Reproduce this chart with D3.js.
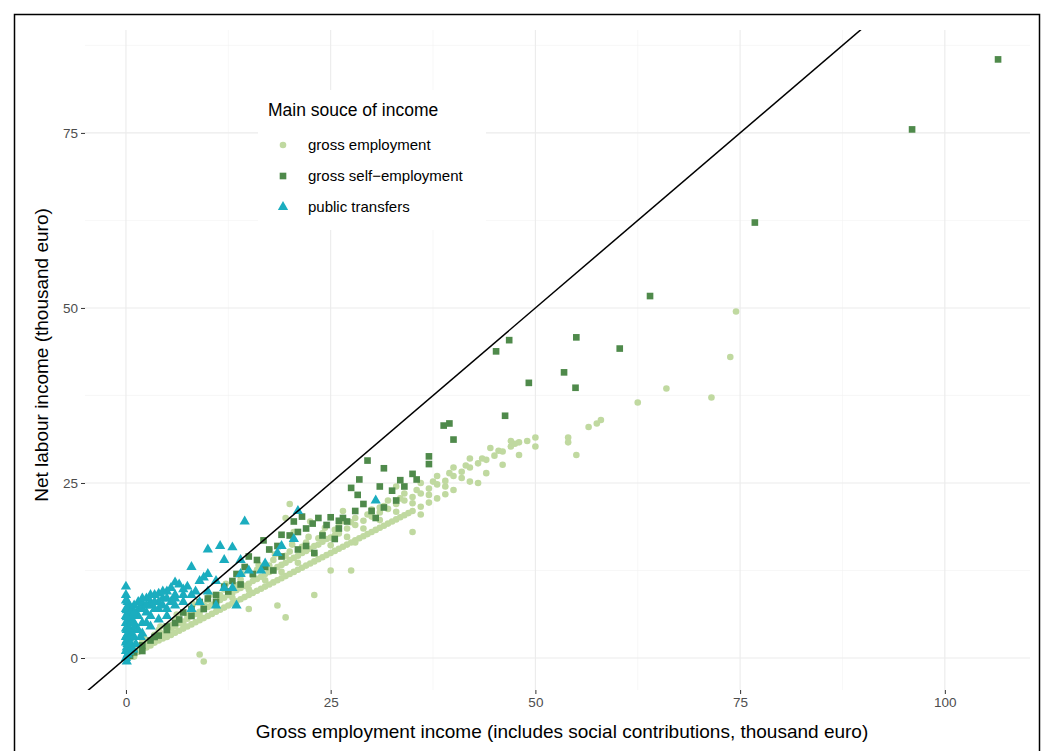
<!DOCTYPE html>
<html><head><meta charset="utf-8">
<script src="https://cdn.jsdelivr.net/npm/d3@7"></script>
<style>body{margin:0;background:#fff}text{font-family:"Liberation Sans",Arial,sans-serif}</style>
</head><body><svg id="c" width="1045" height="751"></svg>
<script>
const xTicks=[0,25,50,75,100];
const yTicks=[0,25,50,75];
const seriesNames=["gross employment","gross self\u2212employment","public transfers"];
const employment=[[0.2,0.5],[0.5,0.8],[1,1],[1.5,1.3],[2,1.8],[2.5,2],[3,2.5],[3.5,2.8],[4,3],[4.5,3.5],[5,3.8],[5.5,4.2],[6,4.5],[6.5,5],[7,5.2],[7.5,5.6],[8,6],[8.5,6.3],[9,6.6],[9.5,7],[10,7.3],[10.5,7.6],[11,8],[11.5,8.3],[12,8.6],[12.5,9],[13,9.3],[13.5,9.7],[14,10],[14.5,10.3],[15,10.6],[15.5,11],[16,11.3],[16.5,11.6],[17,12],[17.5,12.3],[18,12.6],[18.5,13],[19,13.3],[19.5,13.6],[20,14],[20.5,14.3],[21,14.6],[21.5,15],[22,15.3],[22.5,15.6],[23,16],[23.5,16.2],[24,16.6],[24.5,17],[25,17.2],[25.5,17.5],[26,17.8],[27,18.5],[28,19],[29,19.6],[30,20.2],[31,20.8],[32,21.3],[33,22],[34,22.5],[35,23],[36,23.5],[37,24.2],[38,24.8],[39,25.3],[40,26],[41,26.6],[42,27.2],[43,27.8],[44,28.3],[45,28.9],[46,29.5],[47,30.2],[48,30.8],[50,31.5],
[1,0.5],[2,1.2],[3,1.8],[4,2.5],[5,3],[6,3.6],[7,4.2],[8,4.8],[9,5.4],[10,6],[11,6.6],[12,7.2],[13,7.8],[14,8.4],[15,9],[16,9.6],[17,10.2],[18,10.8],[19,11.4],[20,12],[21,12.6],[22,13.2],[23,13.8],[24,14.4],[25,15],[26,15.6],[27,16.2],[28,16.8],[29,17.4],[30,18],[31,18.6],[32,19.2],[33,19.8],[34,20.4],[35,21],[36,21.6],[37,22.2],[38,22.8],[39,23.4],[40,24],[42,25.2],[44,26.4],[46,27.6],
[2,2.5],[4,4],[6,5.5],[8,7],[10,8.3],[12,9.8],[14,11.2],[16,12.6],[18,14],[20,15.2],[22,16.5],[24,17.8],[26,18.8],[28,20],[30,21.2],[32,22.5],[34,23.5],[36,25],[38,26],[40,27.2],
[1.5,0.9],[2.5,1.5],[3.5,2.2],[4.5,2.8],[5.5,3.3],[6.5,3.9],[7.5,4.5],[8.5,5.1],[9.5,5.7],[10.5,6.3],[11.5,6.9],[12.5,7.5],[13.5,8.1],[14.5,8.7],[15.5,9.3],[16.5,9.9],[17.5,10.5],[18.5,11.1],[19.5,11.7],[20.5,12.3],[21.5,12.9],[22.5,13.5],[23.5,14.1],[24.5,14.7],[25.5,15.3],[26.5,15.9],[27.5,16.5],[28.5,17.1],[29.5,17.7],[30.5,18.3],[31.5,18.9],[32.5,19.5],[33.5,20.1],[34.5,20.7],
[3,2.1],[5,3.4],[7,4.8],[9,6.1],[11,7.4],[13,8.6],[15,9.8],[17,11.1],[19,12.3],[21,13.6],[23,14.9],[25,16.1],[27,17.3],[29,18.5],[31,19.7],[33,20.9],[35,22.1],[37,23.3],[39,24.5],[41,25.7],
[1.5,1.8],[3.5,3.3],[5.5,4.7],[7.5,6.1],[9.5,7.6],[11.5,9],[13.5,10.4],[15.5,11.8],[17.5,13.2],[19.5,14.6],[21.5,15.9],[23.5,17.1],[25.5,18.3],[27.5,19.4],[29.5,20.5],[31.5,21.7],[33.5,22.8],[35.5,24],[37.5,25.2],[39.5,26.4],[41.5,27.5],[43.5,28.5],[45.5,29.6],[47.5,30.6],[49,31],
[0.5,0.2],[1,0.2],[0.8,1.2],[2.2,2.8],[4.2,4.5],[6.2,6.2],[8.2,7.7],[10.2,9],[12.2,10.6],[14.2,12],[16.2,13.3],[18.2,14.8],[20.3,16.2],[22.3,17.3],[24.3,18.6],[26.3,19.5],
[57.5,33.5],[58,34],[56.5,33],[54,31.5],[54,30.8],[55,29],[50,30.2],[48,29],[47,31],[44.5,30],[42,28.5],[62.5,36.5],[66,38.5],[71.5,37.2],[73.8,43],[74.5,49.5],[9.5,-0.5],[9,0.5],[19.5,20],[20,22],[28,16.5],[27.5,12.5],[19.5,5.8],[23,9],[18.5,7.5],[35,18],[15,7],[25,12.5],[31,21.5],[33,24.5],[26.5,21],[22.5,19.5],[20.5,18],[17.5,15.5],[36,20.5],[43,25]];
const selfEmp=[[106.5,85.5],[96,75.5],[76.8,62.2],[64,51.7],[60.3,44.2],[55,45.8],[54.9,38.6],[53.5,40.8],[49.2,39.3],[46.8,45.4],[45.2,43.8],[46.3,34.6],[40,31.2],[39.5,33.5],[38.8,33.2],[37,28.8],[37,27.7],[35,26.3],[33.5,25.4],[32.5,23.9],[31.5,27.1],[31,24.5],[29.5,28.2],[27.5,24.3],[28.5,25.5],[28.3,23.3],[29,22],[26.5,20],[26,19.6],[25,20.1],[24.5,19],[23.5,20],[22.8,19.2],[22,18.5],[21.5,20.2],[20.5,19.5],[20,17.5],[19,17.6],[18.5,16],[17.5,15.5],[16.8,16.8],[16,14],[15,14.5],[14.5,13],[13.5,12],[13,11],[12,10.2],[11,9],[10,8.5],[9,8],[8,7],[7,6.5],[6,5],[5,4.5],[4,3.2],[3,2.5],[2,1.8],[1,0.8],[35.5,25.5],[33,22.5],[31.5,21.5],[30,21],[27,19.5],[24,17.5],[22,16],[19,14.5],[17,13],[15.5,12],[14,10.5],[12.5,9.5],[11,8],[9.5,7],[8,6],[6.5,5.5],[5,4],[3.5,3],[2,1],[0.5,0.3],[23,15],[21,15.5],[18,12.5],[26,18.5],[28,21],[30.5,20],[34,24.5],[21,18],[25.5,17]];
const transfers=[[0,10.2],[0,9],[0.2,8],[0,7],[0.3,6.5],[0,5],[0.1,4],[0,3],[0.2,2],[0,1],[0,0],[0.1,-0.5],[0.3,5.5],[0.2,4.5],[0.3,3.5],[0.1,2.5],[0.3,1.5],[0.2,0.5],[0.4,6],[0.1,6.8],[0.4,7.5],[0.2,7.2],[0.6,6.5],[0.6,5],[0.6,3.5],[0.6,2],[0.8,6],[0.8,4],[0,6],[0,4.2],[0,2.2],[0,8.2],[0.1,5.8],[0.1,3.2],[0.1,1.5],[0.4,4.2],[0.4,2.8],[0.4,0.9],[0.8,5.2],[0.8,7],[1.2,6.2],[1.2,4.5],[1.6,7],[1,7.5],[1.5,8],[2,7.8],[2.5,8.5],[3,8],[3.5,9],[4,9.2],[4.5,8.5],[5,9.5],[5.5,10],[6,9],[6.5,10.5],[7,9.8],[7.5,10.2],[8,9],[8.5,9.5],[9,11],[10,12],[10,15.5],[11.5,16],[13,15.8],[14.5,19.5],[12,14],[8,13],[6,10.8],[15,12.5],[18.5,15],[19,16],[21,21],[17,13.5],[14,14],[11,11],[1,5],[2,5],[3,6],[4,7],[5,7],[6,7.5],[7,8],[8,7],[9,8],[10,9.5],[12,10],[13,10],[14,12],[1,3],[2,3.5],[3,4.5],[4,5.5],[5,6],[0.5,2],[30.5,22.5],[20.5,17],[16.5,12.5],[13.5,7.5],[11,7.5],[9.5,11.5],[1.5,6],[2.5,6.5],[3.5,7],[4.5,7.5],[5.5,8],[1.5,4],[2.5,5],[1,6.5],[2,7],[3,7.5],[4,8],[5,8.5],[6,8.5],[7,9],[1.2,2],[1.8,3],[0.9,1.2],[2.5,7.5],[3.5,8],[4.5,9.5],[3,9],[2,8.5]];

const svg=d3.select("#c");
const L=85,R=1030,T=30,B=690;
const x=d3.scaleLinear().domain([-5.0,110.4]).range([L,R]);
const y=d3.scaleLinear().domain([-4.57,89.7]).range([B,T]);
svg.append("rect").attr("x",14.5).attr("y",14.5).attr("width",1025).attr("height",745).attr("fill","none").attr("stroke","#000").attr("stroke-width",1.5);
const g=svg.append("g");
const minorX=[12.5,37.5,62.5,87.5],minorY=[12.5,37.5,62.5,87.5];
g.selectAll(".mx").data(minorX).join("line").attr("x1",d=>x(d)).attr("x2",d=>x(d)).attr("y1",T).attr("y2",B).attr("stroke","#f2f2f2").attr("stroke-width",0.6);
g.selectAll(".my").data(minorY).join("line").attr("y1",d=>y(d)).attr("y2",d=>y(d)).attr("x1",L).attr("x2",R).attr("stroke","#f2f2f2").attr("stroke-width",0.6);
g.selectAll(".gx").data(xTicks).join("line").attr("x1",d=>x(d)).attr("x2",d=>x(d)).attr("y1",T).attr("y2",B).attr("stroke","#ebebeb").attr("stroke-width",1.1);
g.selectAll(".gy").data(yTicks).join("line").attr("y1",d=>y(d)).attr("y2",d=>y(d)).attr("x1",L).attr("x2",R).attr("stroke","#ebebeb").attr("stroke-width",1.1);

const cE="#c0d9a0",cS="#4f8a4b",cT="#1badbf";
g.selectAll(".e").data(employment).join("circle").attr("cx",d=>x(d[0])).attr("cy",d=>y(d[1])).attr("r",3.3).attr("fill",cE);
const sq=d3.symbol().type(d3.symbolSquare).size(44);
g.selectAll(".s").data(selfEmp).join("path").attr("d",sq).attr("transform",d=>`translate(${x(d[0])},${y(d[1])})`).attr("fill",cS);
const tri=d3.symbol().type(d3.symbolTriangle).size(46);
g.selectAll(".t").data(transfers).join("path").attr("d",tri).attr("transform",d=>`translate(${x(d[0])},${y(d[1])})`).attr("fill",cT);

svg.append("clipPath").attr("id","cp").append("rect").attr("x",L).attr("y",T).attr("width",R-L).attr("height",B-T);
svg.append("line").attr("clip-path","url(#cp)").attr("x1",x(-10)).attr("y1",y(-10)).attr("x2",x(100)).attr("y2",y(100)).attr("stroke","#000").attr("stroke-width",1.5);

const xa=svg.append("g").attr("transform",`translate(0,${B})`).call(d3.axisBottom(x).tickValues(xTicks).tickSize(4).tickSizeOuter(0));
const ya=svg.append("g").attr("transform",`translate(${L},0)`).call(d3.axisLeft(y).tickValues(yTicks).tickSize(4).tickSizeOuter(0));
[xa,ya].forEach(a=>{a.select(".domain").remove();a.selectAll("line").attr("stroke","#333");a.selectAll("text").attr("fill","#4d4d4d").style("font-size","13.5px");});
svg.append("text").attr("x",562).attr("y",738).attr("text-anchor","middle").style("font-size","19px").text("Gross employment income (includes social contributions, thousand euro)");
svg.append("text").attr("transform",`translate(48,355) rotate(-90)`).attr("text-anchor","middle").style("font-size","19px").text("Net labour income (thousand euro)");

const lg=svg.append("g");
lg.append("rect").attr("x",258).attr("y",90).attr("width",228).attr("height",140).attr("fill","#fff");
lg.append("text").attr("x",268).attr("y",116).style("font-size","17.5px").text("Main souce of income");
const ly=[145,176,207];
lg.append("circle").attr("cx",283).attr("cy",ly[0]).attr("r",3.3).attr("fill",cE);
lg.append("path").attr("d",sq).attr("transform",`translate(283,${ly[1]})`).attr("fill",cS);
lg.append("path").attr("d",tri).attr("transform",`translate(283,${ly[2]})`).attr("fill",cT);
seriesNames.forEach((n,i)=>lg.append("text").attr("x",308).attr("y",ly[i]+5).style("font-size","15px").text(n));
</script></body></html>
